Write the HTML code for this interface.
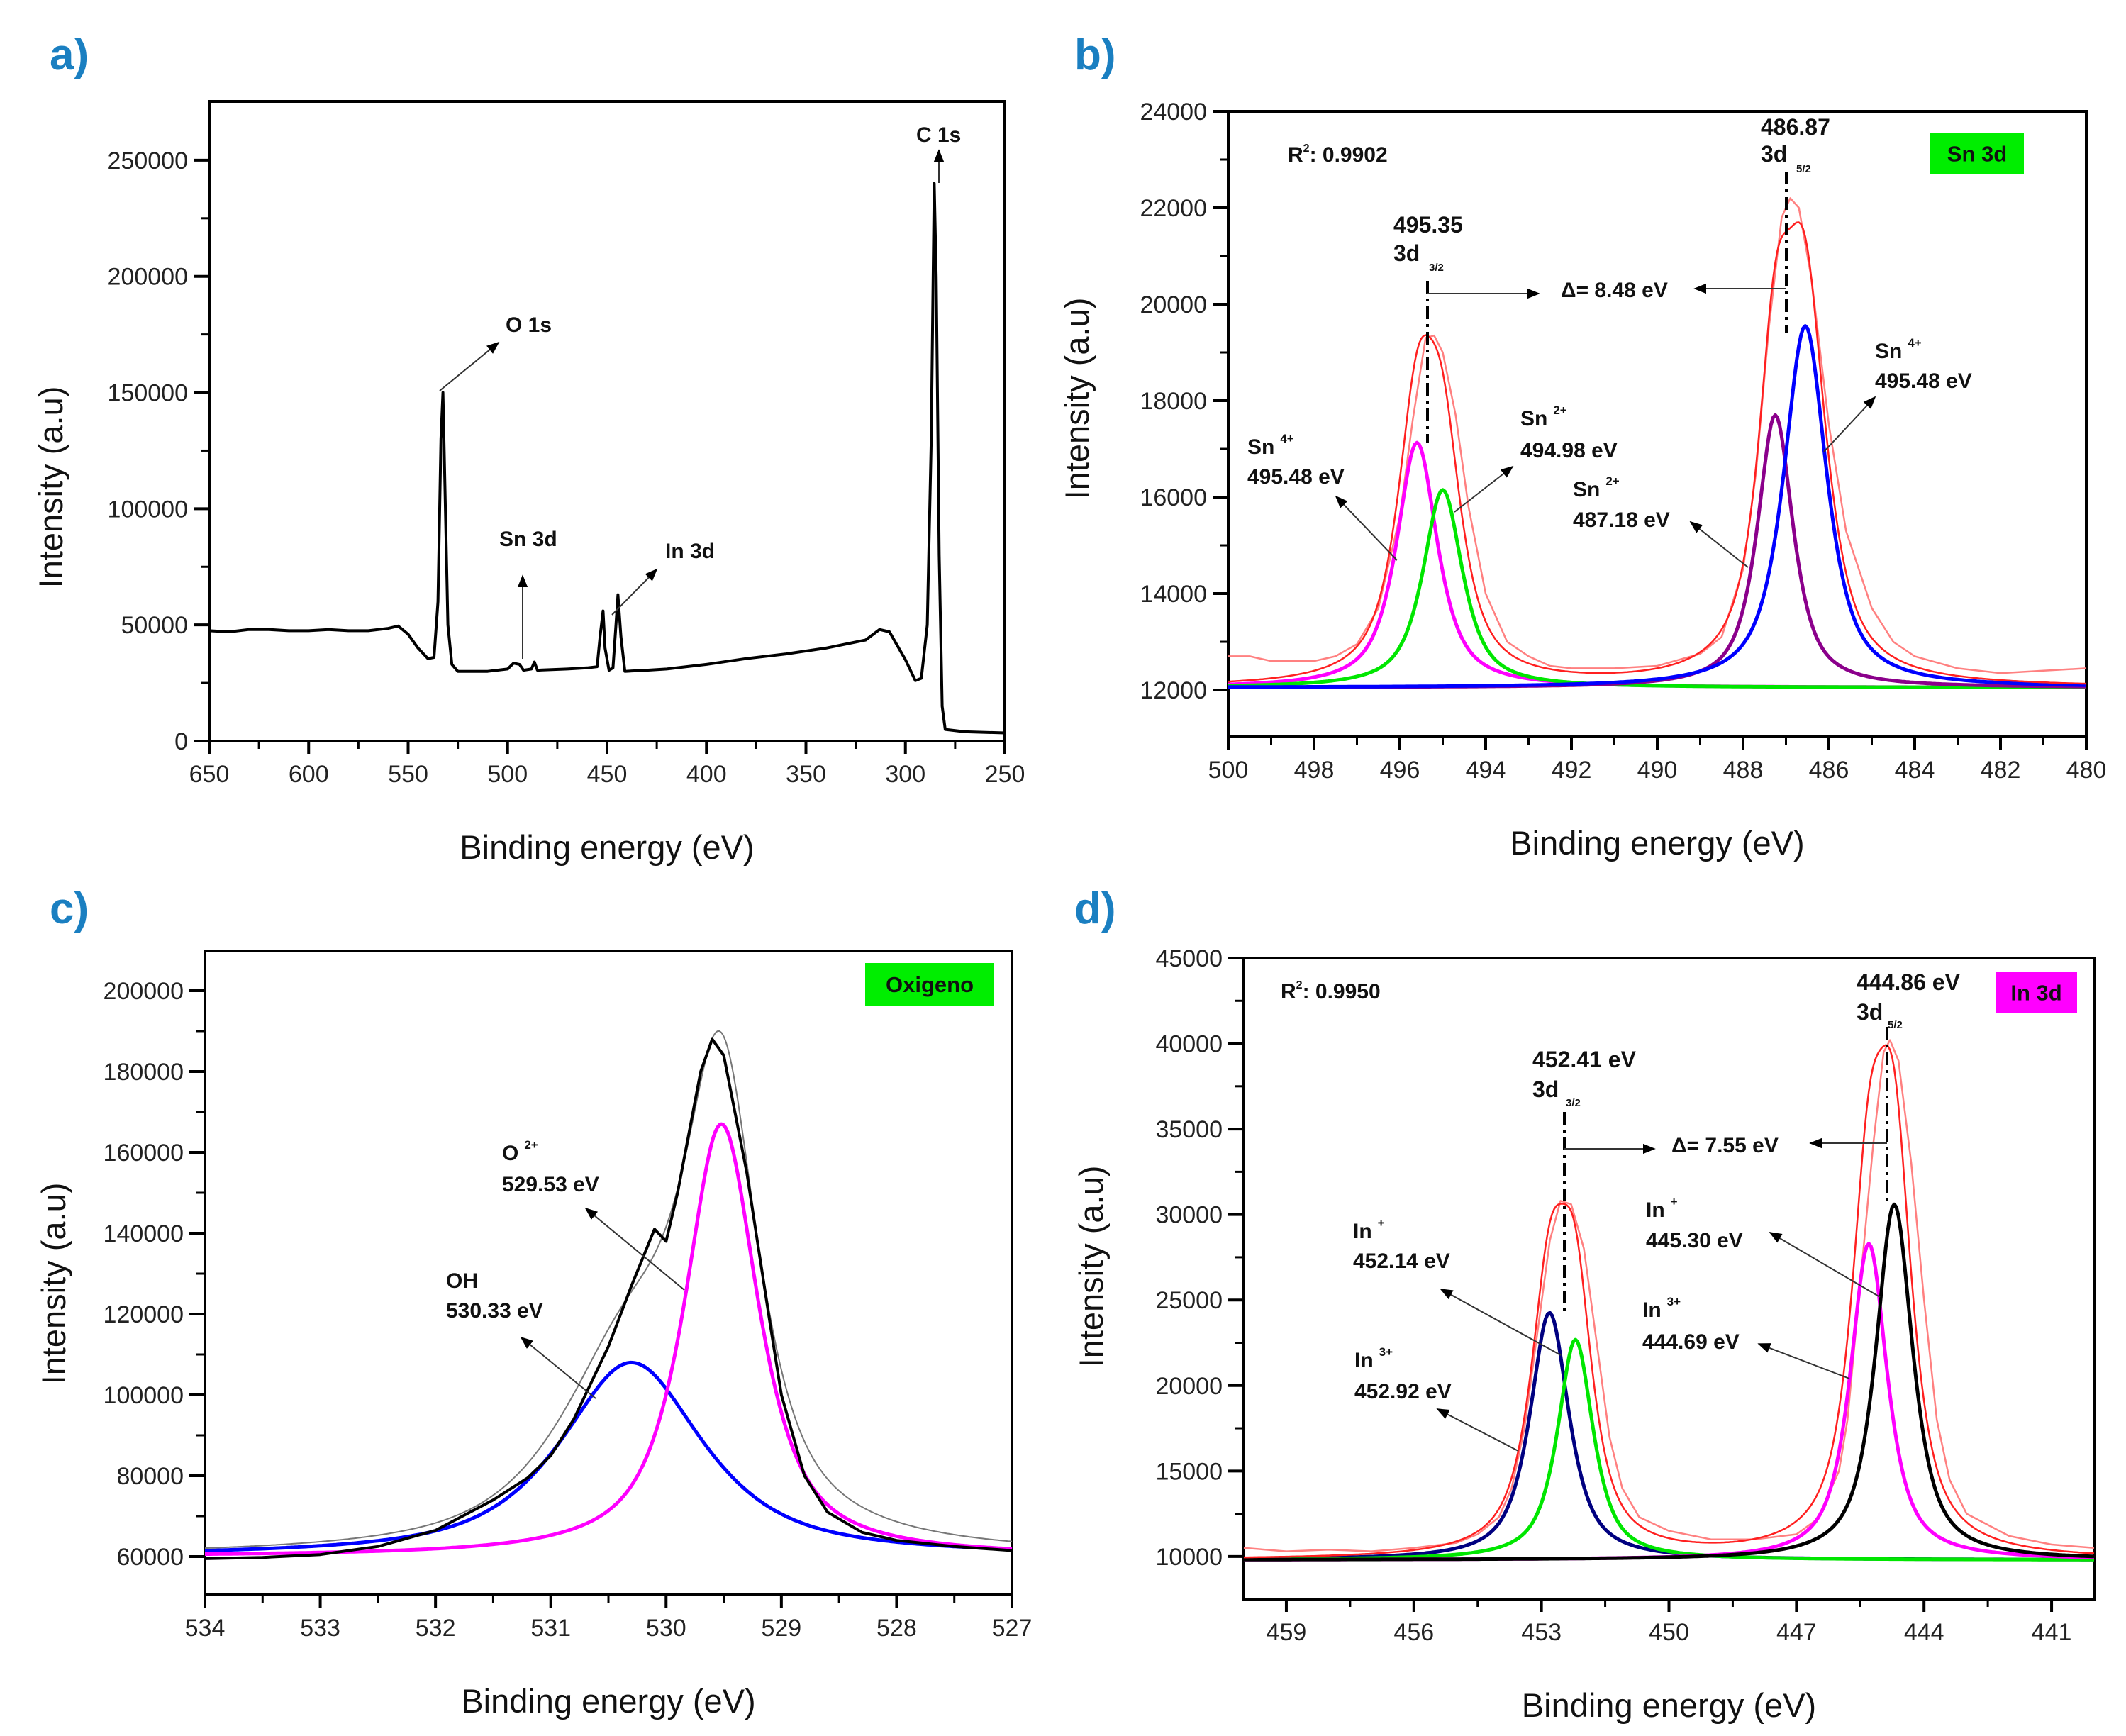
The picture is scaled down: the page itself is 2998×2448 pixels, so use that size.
<!DOCTYPE html>
<html><head><meta charset="utf-8"><style>
html,body{margin:0;padding:0;background:#fff;}
svg{display:block;font-family:"Liberation Sans",Arial,sans-serif;}
</style></head><body>
<svg id="fig" width="2998" height="2448" viewBox="0 0 2998 2448" xmlns="http://www.w3.org/2000/svg">
<defs>
<marker id="ah" viewBox="0 0 10 10" refX="9" refY="5" markerWidth="9" markerHeight="9" orient="auto"><path d="M0,1 L10,5 L0,9 Z" fill="#000"/></marker>
</defs>
</svg>
<script>
// ---------- Panel a: survey data ----------
const surveyX=[650,640,630,620,610,600,590,580,570,560,555,550,545,540,537,535,533.5,532.5,531.5,530,528,525,520,510,500,497,494,492,488,486.5,485,470,460,455,453.5,452,451,449,447,445.5,444.5,443,441,430,420,400,380,360,340,320,313,308,300,295,292,289,287,285.5,284.5,283,281.5,280,270,250];
const surveyY=[47500,47000,48000,48000,47500,47500,48000,47500,47500,48500,49500,46000,40000,35500,36000,60000,130000,150000,110000,50000,33000,30000,30000,30000,31000,33500,33000,30500,31000,34000,30500,31000,31500,32000,45000,56000,40000,30500,31500,50000,63000,45000,30000,30500,31000,33000,35500,37500,40000,43500,48000,47000,35000,26000,27000,50000,130000,240000,200000,80000,15000,5000,4000,3500];
const aTicksY=[0,50000,100000,150000,200000,250000];
const aTicksX=[650,600,550,500,450,400,350,300,250];

// ---------- Panel b: Sn 3d ----------
const bCenters=[495.6,495.0,487.25,486.55];
const bHeights=[17130,16150,17700,19550];
const bWidths=[0.57,0.55,0.5,0.6];
const bColors=["#ff00ff","#00e600","#8b008b","#0000ff"];
const bBase=12050;
const bRawX=[500,499.5,499,498.5,498,497.5,497,496.5,496,495.7,495.4,495.2,495,494.7,494.4,494,493.5,493,492.5,492,491,490,489,488.5,488,487.7,487.4,487.1,486.9,486.7,486.4,486,485.6,485,484.5,484,483,482,481,480];
const bRawY=[12700,12700,12600,12600,12600,12700,12950,13700,15600,17600,19300,19350,19000,17700,15800,14000,13000,12700,12500,12450,12450,12500,12750,13100,14500,16500,19500,21800,22200,22000,20500,17500,15300,13700,13000,12700,12450,12350,12400,12450];
const bTicksY=[12000,14000,16000,18000,20000,22000,24000];
const bTicksX=[500,498,496,494,492,490,488,486,484,482,480];

// ---------- Panel c: O 1s ----------
const cCenters=[530.3,529.52];
const cHeights=[108000,167000];
const cWidths=[0.74,0.38];
const cColors=["#0000ff","#ff00ff"];
const cBase=60000;
const cRawX=[534,533.5,533,532.5,532,531.8,531.5,531.2,531,530.8,530.5,530.3,530.1,530,529.9,529.8,529.7,529.6,529.5,529.3,529.1,529,528.8,528.6,528.3,528,527.5,527];
const cRawY=[59500,59800,60500,62500,66500,69500,74000,79500,85000,94000,112000,127000,141000,138000,150000,165000,180000,188000,184000,155000,118000,100000,80000,71000,66000,64000,62500,61500];
const cTicksY=[60000,80000,100000,120000,140000,160000,180000,200000];
const cTicksX=[534,533,532,531,530,529,528,527];

// ---------- Panel d: In 3d ----------
const dCenters=[452.81,452.2,445.3,444.7];
const dHeights=[24260,22680,28300,30600];
const dWidths=[0.55,0.5,0.52,0.52];
const dColors=["#000080","#00e600","#ff00ff","#000000"];
const dBase=9800;
const dRawX=[460,459,458,457,456,455,454.5,454,453.7,453.4,453.1,452.8,452.55,452.3,452,451.7,451.4,451.1,450.7,450,449,448,447,446.5,446,445.8,445.5,445.2,444.95,444.8,444.6,444.3,444,443.7,443.4,443,442,441,440];
const dRawY=[10500,10300,10400,10300,10500,10800,11300,12300,14000,17500,23000,28500,30800,30600,28000,22500,17000,14000,12300,11500,11000,11000,11300,12200,15000,18000,26000,34000,39500,40200,39000,33000,25000,18000,14500,12500,11200,10700,10500];
const dTicksY=[10000,15000,20000,25000,30000,35000,40000,45000];
const dTicksX=[459,456,453,450,447,444,441];

const NS="http://www.w3.org/2000/svg";
const svg=document.getElementById("fig");
function mk(tag,attrs,parent){const e=document.createElementNS(NS,tag);for(const k in attrs)e.setAttribute(k,attrs[k]);(parent||svg).appendChild(e);return e;}
function axis(x0,x1,px0,px1){return v=>px0+(v-x0)/(x1-x0)*(px1-px0);}
function pv(x,c,h,w,base){const d=(x-c)/w;const L=1/(1+d*d);const G=Math.exp(-0.693*d*d);return (h-base)*(0.8*L+0.2*G);}

function panel(cfg){
  const g=mk("g",{});
  
  
  const X=axis(cfg.xmin,cfg.xmax,cfg.L,cfg.R), Y=axis(cfg.ymin,cfg.ymax,cfg.B,cfg.T);
  cfg.X=X;cfg.Y=Y;cfg.g=g;
  const fr=mk("rect",{x:cfg.L,y:cfg.T,width:cfg.R-cfg.L,height:cfg.B-cfg.T,fill:"none",stroke:"#000","stroke-width":4},g);
  
  
  cfg.ticksY.forEach((v,i)=>{
    const y=Y(v);
    const t=mk("line",{x1:cfg.L-22,x2:cfg.L,y1:y,y2:y,stroke:"#000","stroke-width":4},g);
    
    
    const lb=mk("text",{x:cfg.L-30,y:y+12,"text-anchor":"end","font-size":34,fill:"#222"},g);
    lb.textContent=v;
    
    
    if(i<cfg.ticksY.length-1){const ym=Y(v+(cfg.ticksY[1]-cfg.ticksY[0])/2);
      const m=mk("line",{x1:cfg.L-12,x2:cfg.L,y1:ym,y2:ym,stroke:"#000","stroke-width":3},g);
      
      }
  });
  cfg.ticksX.forEach((v,i)=>{
    const x=X(v);
    const t=mk("line",{x1:x,x2:x,y1:cfg.B,y2:cfg.B+18,stroke:"#000","stroke-width":4},g);
    
    
    const lb=mk("text",{x:x,y:cfg.B+58,"text-anchor":"middle","font-size":34,fill:"#222"},g);
    lb.textContent=v;
    
    
    if(i<cfg.ticksX.length-1){const xm=X(v+(cfg.ticksX[1]-cfg.ticksX[0])/2);
      const m=mk("line",{x1:xm,x2:xm,y1:cfg.B,y2:cfg.B+11,stroke:"#000","stroke-width":3},g);
      
      }
  });
  const xt=mk("text",{x:(cfg.L+cfg.R)/2,y:cfg.B+166,"text-anchor":"middle","font-size":47,fill:"#111"},g);
  xt.textContent="Binding energy (eV)";
  
  
  const yt=mk("text",{x:0,y:0,"text-anchor":"middle","font-size":47,fill:"#111",transform:`translate(${cfg.ylx},${cfg.yly}) rotate(-90)`},g);
  yt.textContent="Intensity (a.u)";
  
  
  const pl=mk("text",{x:cfg.lx,y:cfg.ly,"font-size":62,"font-weight":"bold",fill:"#1a7fc1"},g);
  pl.textContent=cfg.letter;
  
  
  return cfg;
}
function clipY(cfg,y){return Math.max(cfg.T,Math.min(cfg.B,y));}
function poly(cfg,xs,ys,color,w,name){
  const pts=xs.map((x,i)=>cfg.X(x).toFixed(1)+","+clipY(cfg,cfg.Y(ys[i])).toFixed(1)).join(" ");
  const p=mk("polyline",{points:pts,fill:"none",stroke:color,"stroke-width":w,"stroke-linejoin":"round"},cfg.g);
  
  
  return p;
}
function comps(cfg,centers,heights,widths,colors,base,envColor,names){
  const xs=[];const n=400;for(let i=0;i<=n;i++)xs.push(cfg.xmin+(cfg.xmax-cfg.xmin)*i/n);
  const env=xs.map(()=>base);
  centers.forEach((c,k)=>{
    const ys=xs.map((x,i)=>{const v=pv(x,c,heights[k],widths[k],base);env[i]+=v;return base+v;});
    poly(cfg,xs,ys,colors[k],5,names[k]);
  });
  if(envColor)poly(cfg,xs,env,envColor,2.5,"fit-envelope");
  return {xs,env};
}
function txt(cfg,x,y,s,size,name,anchor){
  const t=mk("text",{x:x,y:y,"font-size":size||30,"font-weight":"bold",fill:"#111","text-anchor":anchor||"start"},cfg.g);
  t.textContent=s;
  
  
  return t;
}
function ion(cfg,x,y,base,sup,name){
  const t=txt(cfg,x,y,base,30,name);
  const s=mk("tspan",{dy:-16,"font-size":17,dx:8},t);s.textContent=sup;
}
function arrow(cfg,x1,y1,x2,y2,name,w){
  const a=mk("line",{x1,y1,x2,y2,stroke:"#333","stroke-width":w||2,"marker-end":"url(#ah)"},cfg.g);
  
  
}
function dashv(cfg,x,y1,y2){
  const l=mk("line",{x1:x,x2:x,y1,y2,stroke:"#000","stroke-width":4,"stroke-dasharray":"18,7,4,7"},cfg.g);
  
  
}
function box(cfg,x,y,w,h,fill,label,name){
  const r=mk("rect",{x,y,width:w,height:h,fill},cfg.g);
  
  
  txt(cfg,x+w/2,y+h/2+11,label,31,name+"-text","middle");
}
function r2(cfg,x,y,val){
  const t=txt(cfg,x,y,"",30,"r2-label");
  const a=mk("tspan",{},t);a.textContent="R";
  const s=mk("tspan",{dy:-14,"font-size":16},t);s.textContent="2";
  const r=mk("tspan",{dy:14},t);r.textContent=": "+val;
}

// Panel a
const A=panel({name:"panel-a-survey",L:295,R:1417,T:143,B:1045,xmin:650,xmax:250,ymin:0,ymax:275300,ticksY:aTicksY,ticksX:aTicksX,ylx:88,yly:687,lx:70,ly:98,letter:"a)"});
poly(A,surveyX,surveyY,"#000",4,"survey-spectrum");
txt(A,1292,200,"C 1s",30,"c1s-label");
arrow(A,1324,258,1324,212,"c1s-arrow");
txt(A,713,468,"O 1s",30,"o1s-label");
arrow(A,620,551,703,483,"o1s-arrow");
txt(A,704,770,"Sn 3d",30,"sn3d-label");
arrow(A,737,929,737,812,"sn3d-arrow");
txt(A,938,787,"In 3d",30,"in3d-label");
arrow(A,863,867,926,803,"in3d-arrow");

// Panel b
const Bp=panel({name:"panel-b-sn3d",L:1732,R:2942,T:157,B:1039,xmin:500,xmax:480,ymin:11030,ymax:24000,ticksY:bTicksY,ticksX:bTicksX,ylx:1535,yly:562,lx:1515,ly:98,letter:"b)"});
poly(Bp,bRawX,bRawY,"#ff8080",2.5,"raw-spectrum");
comps(Bp,bCenters,bHeights,bWidths,bColors,bBase,"#ff2020",["sn4-3d32-peak","sn2-3d32-peak","sn2-3d52-peak","sn4-3d52-peak"]);
r2(Bp,1816,228,"0.9902");
txt(Bp,2483,190,"486.87",32,"peak-486-label");
txt(Bp,2483,228,"3d",32,"peak-486-orbital");
txt(Bp,2533,243,"5/2",15,"sub-52");
dashv(Bp,2519,242,470);
txt(Bp,1965,328,"495.35",32,"peak-495-label");
txt(Bp,1965,368,"3d",32,"peak-495-orbital");
txt(Bp,2015,382,"3/2",15,"sub-32");
dashv(Bp,2013,396,625);
arrow(Bp,2013,414,2170,414,"delta-arrow-right");
txt(Bp,2201,419,"Δ= 8.48 eV",30,"delta-label");
arrow(Bp,2519,407,2390,407,"delta-arrow-left");
box(Bp,2722,188,132,57,"#00ee00","Sn 3d","sn3d-tag");
ion(Bp,1759,640,"Sn","4+","sn4-left-label");txt(Bp,1759,682,"495.48 eV",30,"sn4-left-value");
arrow(Bp,1970,790,1884,700,"sn4-left-arrow");
ion(Bp,2144,600,"Sn","2+","sn2-left-label");txt(Bp,2144,645,"494.98 eV",30,"sn2-left-value");
arrow(Bp,2051,722,2133,658,"sn2-left-arrow");
ion(Bp,2218,700,"Sn","2+","sn2-right-label");txt(Bp,2218,743,"487.18 eV",30,"sn2-right-value");
arrow(Bp,2465,800,2384,736,"sn2-right-arrow");
ion(Bp,2644,505,"Sn","4+","sn4-right-label");txt(Bp,2644,547,"495.48 eV",30,"sn4-right-value");
arrow(Bp,2572,637,2644,560,"sn4-right-arrow");

// Panel c
const Cp=panel({name:"panel-c-o1s",L:289,R:1427,T:1341,B:2249,xmin:534,xmax:527,ymin:50530,ymax:209820,ticksY:cTicksY,ticksX:cTicksX,ylx:92,yly:1810,lx:70,ly:1302,letter:"c)"});
const cr=comps(Cp,cCenters,cHeights,cWidths,cColors,cBase,null,["oh-peak","o2-peak"]);
poly(Cp,cr.xs,cr.env,"#777",2,"fit-envelope");
poly(Cp,cRawX,cRawY,"#000",4,"raw-spectrum");
box(Cp,1220,1358,182,60,"#00ee00","Oxigeno","oxigeno-tag");
ion(Cp,708,1636,"O","2+","o2-label");txt(Cp,708,1680,"529.53 eV",30,"o2-value");
arrow(Cp,965,1819,826,1704,"o2-arrow");
txt(Cp,629,1816,"OH",30,"oh-label");txt(Cp,629,1858,"530.33 eV",30,"oh-value");
arrow(Cp,840,1972,735,1886,"oh-arrow");

// Panel d
const Dp=panel({name:"panel-d-in3d",L:1754,R:2953,T:1351,B:2255,xmin:460,xmax:440,ymin:7506,ymax:45000,ticksY:dTicksY,ticksX:dTicksX,ylx:1555,yly:1786,lx:1515,ly:1302,letter:"d)"});
poly(Dp,dRawX,dRawY,"#ff8080",2.5,"raw-spectrum");
comps(Dp,dCenters,dHeights,dWidths,dColors,dBase,"#ff2020",["in-plus-3d32-peak","in3-3d32-peak","in-plus-3d52-peak","in3-3d52-peak"]);
r2(Dp,1806,1408,"0.9950");
txt(Dp,2618,1396,"444.86 eV",32,"peak-444-label");
txt(Dp,2618,1438,"3d",32,"peak-444-orbital");
txt(Dp,2662,1450,"5/2",15,"sub-52");
dashv(Dp,2661,1448,1697);
txt(Dp,2161,1505,"452.41 eV",32,"peak-452-label");
txt(Dp,2161,1547,"3d",32,"peak-452-orbital");
txt(Dp,2208,1560,"3/2",15,"sub-32");
dashv(Dp,2206,1568,1853);
arrow(Dp,2206,1620,2333,1620,"delta-arrow-right");
txt(Dp,2357,1625,"Δ= 7.55 eV",30,"delta-label");
arrow(Dp,2661,1612,2553,1612,"delta-arrow-left");
box(Dp,2814,1370,115,59,"#ff00ff","In 3d","in3d-tag");
ion(Dp,1908,1746,"In","+","in-plus-left-label");txt(Dp,1908,1788,"452.14 eV",30,"in-plus-left-value");
arrow(Dp,2201,1911,2032,1818,"in-plus-left-arrow");
ion(Dp,1910,1928,"In","3+","in3-left-label");txt(Dp,1910,1972,"452.92 eV",30,"in3-left-value");
arrow(Dp,2141,2046,2027,1987,"in3-left-arrow");
ion(Dp,2321,1716,"In","+","in-plus-right-label");txt(Dp,2321,1759,"445.30 eV",30,"in-plus-right-value");
arrow(Dp,2651,1829,2496,1738,"in-plus-right-arrow");
ion(Dp,2316,1857,"In","3+","in3-right-label");txt(Dp,2316,1902,"444.69 eV",30,"in3-right-value");
arrow(Dp,2608,1944,2480,1895,"in3-right-arrow");
</script>
</body></html>
